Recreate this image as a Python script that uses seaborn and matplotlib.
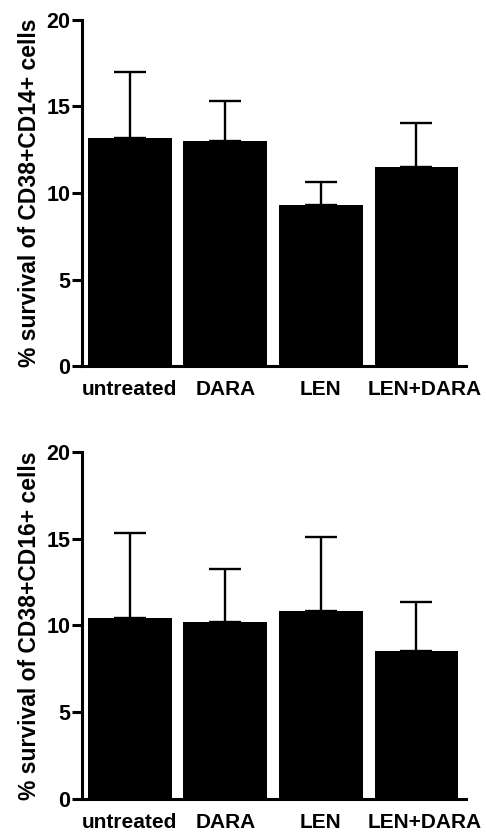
import pandas as pd
import seaborn as sns
import matplotlib.pyplot as plt
from matplotlib.transforms import ScaledTranslation

# Values (mean and upper SD)
groups = ["untreated", "DARA", "LEN", "LEN+DARA"]
cd14_mean = [13.2, 13.0, 9.3, 11.5]
cd14_sd = [3.8, 2.3, 1.35, 2.55]
cd16_mean = [10.45, 10.2, 10.85, 8.55]
cd16_sd = [4.9, 3.05, 4.25, 2.8]

panels = [
    ("% survival of CD38+CD14+ cells", cd14_mean, cd14_sd),
    ("% survival of CD38+CD16+ cells", cd16_mean, cd16_sd),
]

sns.set_style("ticks")
plt.rcParams["font.family"] = ["Liberation Sans", "DejaVu Sans"]
plt.rcParams["font.weight"] = "bold"

fig = plt.figure(figsize=(4.86, 8.33), dpi=100)
positions = [
    [0.1687, 0.5606, 0.7901, 0.4154],
    [0.1687, 0.0408, 0.7901, 0.4166],
]

for pos, (label, mean, sd) in zip(positions, panels):
    ax = fig.add_axes(pos)
    df = pd.DataFrame({"group": groups, "value": mean})
    sns.barplot(data=df, x="group", y="value", color="black", saturation=1,
                width=0.875, errorbar=None, ax=ax, edgecolor="none")
    # upper-only error bars, drawn under the bars so the lower cap is hidden
    ax.errorbar(range(len(groups)), mean, yerr=[[0] * len(sd), sd],
                fmt="none", ecolor="black", elinewidth=1.7, capsize=11.5,
                capthick=1.7, zorder=0.5)
    ax.set_ylim(0, 20)
    ax.set_xlim(-0.5, 3.52)
    ax.set_yticks([0, 5, 10, 15, 20])
    ax.set_xlabel("")
    ax.set_ylabel(label, fontsize=16.5, fontweight="bold", labelpad=4,
                  color="black")
    sns.despine(ax=ax)
    for side in ["left", "bottom"]:
        ax.spines[side].set_linewidth(2.2)
        ax.spines[side].set_color("black")
    ax.tick_params(axis="y", length=7, width=2.2, labelsize=15.5, pad=1.5,
                   color="black", labelcolor="black")
    ax.tick_params(axis="x", length=0, labelsize=15, pad=10,
                   labelcolor="black")
    for t in ax.get_xticklabels() + ax.get_yticklabels():
        t.set_fontweight("bold")
    # the last label sits a little right of its bar in the original
    last = ax.get_xticklabels()[-1]
    last.set_transform(last.get_transform()
                       + ScaledTranslation(6 / 72, 0, fig.dpi_scale_trans))

fig.savefig("out.png", dpi=100)
